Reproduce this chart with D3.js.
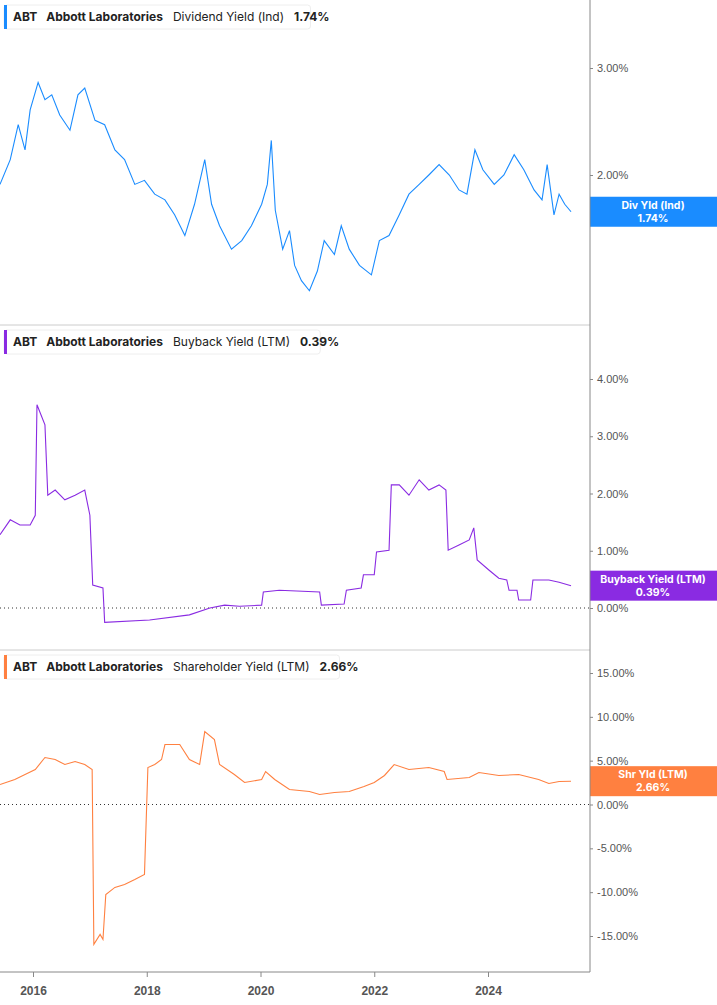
<!DOCTYPE html>
<html><head><meta charset="utf-8">
<script src="https://cdn.jsdelivr.net/npm/d3@7"></script>
<style>body{margin:0;background:#fff;font-family:Inter,"Noto Sans",sans-serif}</style>
</head><body><svg id="c" width="717" height="1005"></svg>
<script>
// [decimal year, value %]
const divYield = [[2015.42,1.93],[2015.60,2.12],[2015.74,2.42],[2015.86,2.20],[2015.95,2.56],[2016.09,2.84],[2016.21,2.66],[2016.33,2.71],[2016.47,2.51],[2016.65,2.37],[2016.79,2.71],[2016.91,2.78],[2017.09,2.46],[2017.26,2.42],[2017.44,2.20],[2017.61,2.12],[2017.79,1.93],[2017.96,1.96],[2018.14,1.86],[2018.32,1.82],[2018.49,1.72],[2018.67,1.59],[2018.84,1.79],[2019.02,2.12],[2019.14,1.79],[2019.28,1.65],[2019.49,1.51],[2019.67,1.56],[2019.84,1.65],[2020.02,1.79],[2020.12,1.93],[2020.19,2.28],[2020.26,1.75],[2020.39,1.51],[2020.51,1.62],[2020.60,1.42],[2020.72,1.34],[2020.86,1.29],[2021.00,1.39],[2021.12,1.56],[2021.30,1.48],[2021.42,1.65],[2021.56,1.51],[2021.74,1.42],[2021.95,1.37],[2022.09,1.56],[2022.26,1.59],[2022.44,1.72],[2022.61,1.86],[2022.79,1.93],[2022.96,2.00],[2023.14,2.08],[2023.32,2.00],[2023.49,1.89],[2023.63,1.86],[2023.77,2.20],[2023.91,2.04],[2024.11,1.93],[2024.28,2.00],[2024.46,2.16],[2024.63,2.04],[2024.81,1.89],[2024.95,1.82],[2025.04,2.08],[2025.16,1.72],[2025.25,1.86],[2025.35,1.79],[2025.46,1.74]];
const buyback = [[2015.42,1.28],[2015.60,1.54],[2015.77,1.45],[2015.95,1.45],[2016.04,1.62],[2016.07,3.55],[2016.21,3.20],[2016.26,1.97],[2016.39,2.06],[2016.56,1.89],[2016.74,1.97],[2016.91,2.06],[2017.00,1.62],[2017.05,0.40],[2017.23,0.35],[2017.26,-0.25],[2018.05,-0.21],[2018.75,-0.12],[2019.11,0.00],[2019.37,0.05],[2019.63,0.03],[2020.02,0.05],[2020.05,0.28],[2020.33,0.31],[2021.04,0.28],[2021.07,0.05],[2021.47,0.07],[2021.51,0.31],[2021.77,0.35],[2021.81,0.58],[2022.00,0.58],[2022.04,0.98],[2022.26,1.01],[2022.30,2.15],[2022.44,2.15],[2022.61,1.97],[2022.79,2.24],[2022.96,2.06],[2023.14,2.15],[2023.26,2.06],[2023.30,1.01],[2023.49,1.10],[2023.67,1.19],[2023.75,1.40],[2023.81,0.84],[2024.02,0.66],[2024.19,0.52],[2024.33,0.49],[2024.37,0.31],[2024.51,0.31],[2024.54,0.14],[2024.75,0.14],[2024.79,0.49],[2025.07,0.49],[2025.25,0.45],[2025.46,0.39]];
const shrYield = [[2015.42,2.28],[2015.68,2.85],[2015.86,3.42],[2016.04,3.99],[2016.21,5.36],[2016.39,5.13],[2016.56,4.56],[2016.74,4.90],[2016.91,4.56],[2017.04,3.99],[2017.07,-15.96],[2017.18,-14.82],[2017.23,-15.39],[2017.28,-10.26],[2017.44,-9.46],[2017.61,-9.12],[2017.79,-8.55],[2017.96,-7.98],[2018.02,4.22],[2018.14,4.56],[2018.26,5.13],[2018.32,6.84],[2018.58,6.84],[2018.75,5.13],[2018.93,4.56],[2019.02,8.32],[2019.19,7.41],[2019.28,4.56],[2019.54,3.42],[2019.72,2.51],[2020.02,2.85],[2020.09,3.76],[2020.25,2.85],[2020.51,1.71],[2020.86,1.48],[2021.04,1.14],[2021.30,1.37],[2021.56,1.48],[2021.82,2.05],[2022.00,2.51],[2022.18,3.31],[2022.35,4.56],[2022.61,3.99],[2022.96,4.22],[2023.23,3.76],[2023.28,2.85],[2023.67,3.08],[2023.84,3.65],[2024.19,3.31],[2024.54,3.42],[2024.89,2.85],[2025.07,2.39],[2025.25,2.62],[2025.46,2.66]];
const yearTicks = [2016, 2018, 2020, 2022, 2024];

const svg = d3.select("#c");
const axisX = 590;
const x = d3.scaleLinear().domain([2016, 2024]).range([33, 488]);

const panels = [
  {data: divYield, color: "#1a8cff", metric: "Dividend Yield (Ind)", last: "1.74%", tag: "Div Yld (Ind)",
   y: d3.scaleLog().domain([2, 3]).range([175, 68]), ticks: [2, 3], top: 0, bottom: 325, zero: false},
  {data: buyback, color: "#8a2be2", metric: "Buyback Yield (LTM)", last: "0.39%", tag: "Buyback Yield (LTM)",
   y: d3.scaleLinear().domain([0, 4]).range([608, 379]), ticks: [0, 1, 2, 3, 4], top: 325, bottom: 650, zero: true},
  {data: shrYield, color: "#ff8040", metric: "Shareholder Yield (LTM)", last: "2.66%", tag: "Shr Yld (LTM)",
   y: d3.scaleLinear().domain([-15, 15]).range([936, 673]), ticks: [-15, -10, -5, 0, 5, 10, 15], top: 650, bottom: 972, zero: true}
];

panels.forEach(p => {
  const g = svg.append("g");
  if (p.top > 0) g.append("line").attr("x1", 0).attr("x2", axisX).attr("y1", p.top).attr("y2", p.top).attr("stroke", "#ccc");
  if (p.zero) g.append("line").attr("x1", 0).attr("x2", axisX).attr("y1", p.y(0)).attr("y2", p.y(0))
      .attr("stroke", "#333").attr("stroke-dasharray", "1,3");

  const ax = g.append("g").attr("transform", `translate(${axisX},0)`)
    .call(d3.axisRight(p.y).tickValues(p.ticks).tickSize(3).tickFormat(d => d.toFixed(2) + "%"));
  ax.select(".domain").remove();
  ax.selectAll("line").attr("stroke", "#888");
  ax.selectAll("text").attr("fill", "#555").style("font-size", "11px").attr("x", 7);

  g.append("path").datum(p.data).attr("fill", "none").attr("stroke", p.color).attr("stroke-width", 1.1)
    .attr("d", d3.line().x(d => x(d[0])).y(d => p.y(d[1])));

  // right tag
  const ly = p.y(p.data[p.data.length - 1][1]);
  g.append("rect").attr("x", axisX).attr("y", ly - 15).attr("width", 127).attr("height", 30).attr("fill", p.color);
  g.append("text").attr("x", 653).attr("y", ly - 3).attr("text-anchor", "middle").attr("fill", "#fff")
    .style("font-size", "10.5px").style("font-weight", 700).text(p.tag);
  g.append("text").attr("x", 653).attr("y", ly + 10).attr("text-anchor", "middle").attr("fill", "#fff")
    .style("font-size", "10.5px").style("font-weight", 700).text(p.last);

  // legend
  const lg = g.append("g").attr("transform", `translate(4,${p.top + 5})`);
  const lt = lg.append("text").attr("x", 9).attr("y", 16).style("font-size", "12px").attr("fill", "#222");
  lt.append("tspan").style("font-weight", 700).text("ABT");
  lt.append("tspan").attr("dx", 10).style("font-weight", 700).text("Abbott Laboratories");
  lt.append("tspan").attr("dx", 10).text(p.metric);
  lt.append("tspan").attr("dx", 10).style("font-weight", 700).text(p.last);
  const w = lt.node().getComputedTextLength() + 20;
  lg.insert("rect", "text").attr("width", w).attr("height", 24).attr("rx", 3).attr("fill", "#fff").attr("stroke", "#eee");
  lg.insert("rect", "text").attr("width", 3).attr("height", 24).attr("fill", p.color);
});

// vertical axis line and bottom axis
svg.append("line").attr("x1", axisX).attr("x2", axisX).attr("y1", 0).attr("y2", 972).attr("stroke", "#888");
const bx = svg.append("g").attr("transform", "translate(0,972)")
  .call(d3.axisBottom(x).tickValues(yearTicks).tickSize(5).tickFormat(d3.format("d")));
bx.select(".domain").attr("d", "M0,0H" + axisX).attr("stroke", "#888");
bx.selectAll("line").attr("stroke", "#888");
bx.selectAll("text").attr("fill", "#555").style("font-size", "12px").style("font-weight", 700).attr("y", 14);
</script></body></html>
